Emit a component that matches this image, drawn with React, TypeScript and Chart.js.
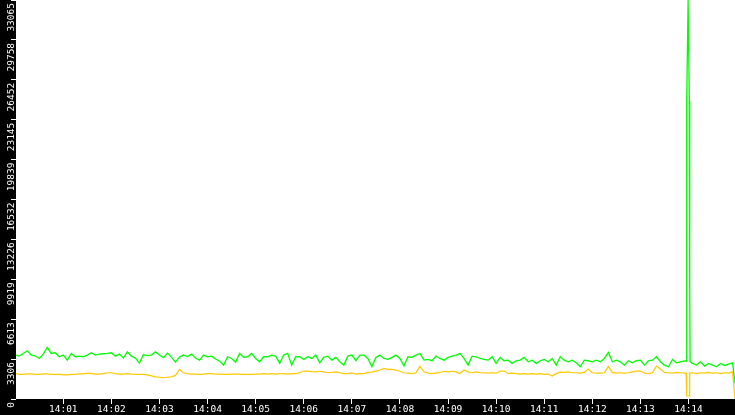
import React, { useEffect, useRef } from "react";
import { Chart, registerables } from "chart.js";

Chart.register(...registerables);

// one reading every 5 seconds, first one at 14:00:00
const SAMPLE_STEP = 5;

const greenValues = [
  3640, 3550, 3775, 4000, 3640, 3580, 3360, 3720, 4270, 3775, 3830, 3500, 3640, 3220, 3775, 3500, 3550, 3500, 3640, 3830,
  3640, 3720, 3750, 3780, 3830, 3550, 3720, 3390, 3910, 3550, 3390, 2980, 3680, 3600, 3640, 3910, 3640, 3430, 3800, 3470,
  3060, 3470, 3640, 3510, 3720, 3390, 3220, 3640, 3500, 3550, 3310, 3140, 2810, 3500, 3360, 3060, 3780,
  3445, 3500, 3775, 3360, 3085, 3500, 3500, 3640, 3550, 2950, 3640, 3775, 2810, 3500, 3500, 3280, 3500, 3360, 3640, 3000,
  3445, 3550, 3220, 3445, 3085, 2810, 3550, 3640, 3170, 3640, 3640, 3360, 2670, 3445, 3640, 3360, 3280, 3445, 3640, 3360,
  2730, 3500, 3445, 3640, 3775, 3220, 3280, 3170, 3550, 3360, 3220, 3445, 3550, 3640, 3775, 3360, 2810, 3550, 3500, 3360,
  3280, 3220, 3500, 2950, 3445, 3170, 3220, 2950, 3170, 3220, 3445, 3085, 3220, 2950, 3170, 3280, 3085, 3360, 2810, 3500,
  3220, 3085, 3220, 3000, 2670, 3220, 3170, 3085, 3220, 3085, 3360, 3860, 3085, 3220, 3085, 2810, 3170, 3000, 3170, 3220,
  2810, 3170, 3220, 3500, 3085, 2810, 2670, 3280, 3000, 3085, 3150, 3100,
  2950, 2810, 3085, 2730, 2950, 2810, 2670, 2950, 2780, 2890, 3000,
];

const yellowValues = [
  2120, 2040, 2040, 2080, 2080, 2040, 2040, 2080, 2080, 2040, 2040, 2040, 2000, 2000, 2040, 2040, 2080, 2080, 2120, 2120,
  2066, 2066, 2100, 2175, 2175, 2100, 2066, 2066, 2100, 2066, 2040, 2040, 2040, 2000, 1920, 1840, 1800, 1760, 1800, 1840,
  1960, 2455, 2175, 2100, 2066, 2066, 2040, 2066, 2100, 2100, 2066, 2066, 2040, 2040, 2066, 2066, 2066,
  2040, 2040, 2040, 2066, 2066, 2100, 2066, 2100, 2066, 2100, 2100, 2066, 2100, 2100, 2175, 2315, 2315, 2275, 2250, 2300,
  2250, 2175, 2200, 2250, 2175, 2100, 2100, 2175, 2066, 2100, 2100, 2200, 2230, 2315, 2400, 2535, 2450, 2450, 2400, 2300,
  2175, 2140, 2100, 2175, 2700, 2250, 2150, 2100, 2150, 2200, 2300, 2250, 2300, 2250, 2100, 2400, 2250, 2175, 2250, 2175,
  2175, 2140, 2175, 2140, 2315, 2315, 2100, 2140, 2100, 2066, 2100, 2066, 2100, 2066, 2100, 2040, 2066, 1900, 2100, 2230,
  2200, 2250, 2175, 2175, 2140, 2200, 2480, 2175, 2140, 2140, 2175, 2700, 2200, 2140, 2175, 2140, 2175, 2250, 2315, 2315,
  2140, 2100, 2175, 2725, 2480, 2200, 2175, 2140, 2200, 2175, 2150, 2150,
  2175, 2100, 2175, 2140, 2200, 2140, 2175, 2100, 2175, 2140, 2250,
];

// the burst at 14:14 and the last reading, in seconds after 14:00
const eventSeconds = [837, 837.5, 838, 839.5, 841, 841.5, 842, 898];
const eventGreen = [3150, 9800, 24700, 33065, 24700, 9800, 3100, 1300];
const eventYellow = [2150, 250, 250, 250, 250, 2150, 2150, 0];

const xTickLabels = [
  "14:01", "14:02", "14:03", "14:04", "14:05", "14:06", "14:07",
  "14:08", "14:09", "14:10", "14:11", "14:12", "14:13", "14:14",
];
const yTickLabels = [
  "0", "3306", "6613", "9919", "13226", "16532", "19839", "23145", "26452", "29758", "33065",
];

const labelFont = { family: "'DejaVu Sans Mono', monospace", size: 9.5 };

function secondsOf(label: string) {
  const [h, m] = label.split(":").map(Number);
  return (h * 60 + m - 14 * 60) * 60;
}

function buildSeries(base: number[], events: number[]) {
  const pts = base
    .map((v, i) => ({ x: i * SAMPLE_STEP, y: v }))
    .filter((p) => !eventSeconds.some((t) => Math.abs(t - p.x) < 2));
  eventSeconds.forEach((t, i) => pts.push({ x: t, y: events[i] }));
  return pts.sort((a, b) => a.x - b.x);
}

const backdrop = {
  id: "backdrop",
  beforeDraw(chart: any) {
    const { ctx, chartArea, width, height } = chart;
    ctx.save();
    ctx.fillStyle = "#000";
    ctx.fillRect(0, 0, width, height);
    ctx.fillStyle = "#fff";
    ctx.fillRect(chartArea.left, chartArea.top, chartArea.right - chartArea.left, chartArea.bottom - chartArea.top);
    ctx.restore();
  },
};

export default function App() {
  const chartRef = useRef<HTMLCanvasElement | null>(null);

  useEffect(() => {
    let chartInstance: Chart<"line"> | null = null;
    const ctx = chartRef.current?.getContext("2d");
    if (ctx) {
      chartInstance = new Chart(ctx, {
        type: "line",
        data: {
          datasets: [
            {
              label: "green",
              data: buildSeries(greenValues, eventGreen),
              borderColor: "#00ff00",
              borderWidth: 1.3,
              pointRadius: 0,
              tension: 0,
            },
            {
              label: "yellow",
              data: buildSeries(yellowValues, eventYellow),
              borderColor: "#ffc800",
              borderWidth: 1.2,
              pointRadius: 0,
              tension: 0,
            },
          ],
        },
        options: {
          animation: false,
          responsive: false,
          devicePixelRatio: 1,
          layout: { padding: 0 },
          plugins: { legend: { display: false }, tooltip: { enabled: false } },
          scales: {
            x: {
              type: "linear",
              min: 1,
              max: 898,
              afterBuildTicks: (scale: any) => {
                scale.ticks = xTickLabels.map((l) => ({ value: secondsOf(l) }));
              },
              afterFit: (scale: any) => {
                scale.height = 16;
              },
              ticks: {
                color: "#fff",
                font: labelFont,
                padding: 0,
                maxRotation: 0,
                autoSkip: false,
                callback: (_v: any, i: number) => xTickLabels[i],
              },
              grid: { drawOnChartArea: false, tickLength: 5, tickColor: "#fff" },
              border: { display: false },
            },
            y: {
              min: 0,
              max: 33065,
              afterBuildTicks: (scale: any) => {
                scale.ticks = yTickLabels.map((l) => ({ value: Number(l) }));
              },
              afterFit: (scale: any) => {
                scale.width = 16;
                scale.paddingTop = 0;
                scale.paddingBottom = 0;
              },
              ticks: {
                color: "#fff",
                font: labelFont,
                padding: -1,
                labelOffset: 3,
                minRotation: 90,
                maxRotation: 90,
                autoSkip: false,
                callback: (_v: any, i: number) => yTickLabels[i],
              },
              grid: { drawOnChartArea: false, tickLength: 5, tickColor: "#fff" },
              border: { display: false },
            },
          },
        },
        plugins: [backdrop],
      });
    }
    return () => {
      if (chartInstance) {
        chartInstance.destroy();
      }
    };
  }, []);

  return (
    <div style={{ position: "fixed", left: 0, top: 0, width: 735, height: 415 }}>
      <canvas ref={chartRef} width={735} height={415}></canvas>
    </div>
  );
}
